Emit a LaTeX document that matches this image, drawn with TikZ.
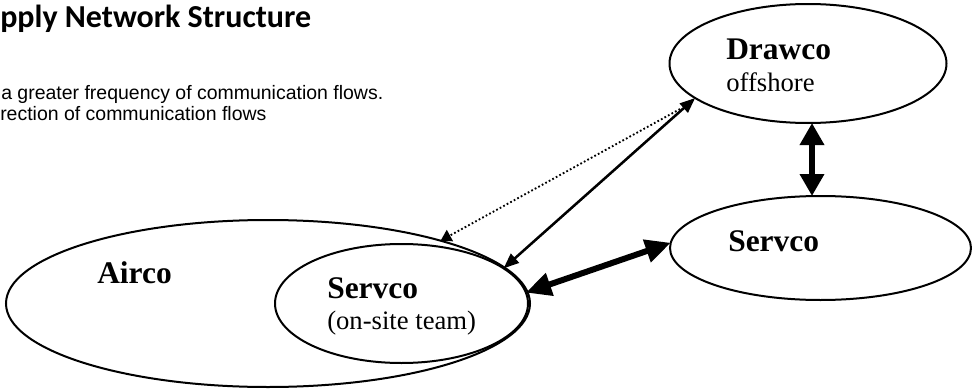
\documentclass[tikz,border=0pt]{standalone}
\usepackage{fontspec}
\setmainfont{Liberation Serif}
\newfontfamily\titlefont{Carlito}
\newfontfamily\notefont{Liberation Sans}
\usetikzlibrary{shapes.geometric,arrows.meta}
\begin{document}
\begin{tikzpicture}[x=0.75pt,y=-0.75pt,
  org/.style={draw, ellipse, line width=1.5pt, inner sep=0pt, outer sep=0pt},
  lbl/.style={anchor=base west, inner sep=0pt, font=\fontsize{23.6}{26}\selectfont\bfseries},
  sub/.style={anchor=base west, inner sep=0pt, font=\fontsize{20}{23}\selectfont},
  note/.style={anchor=base west, inner sep=0pt, font=\notefont\fontsize{14.6}{17}\selectfont},
  thinflow/.style={line width=1.9pt, {Triangle[length=11.5pt,width=9pt]}-{Triangle[length=11.5pt,width=9pt]}},
  dotflow/.style={line width=1.4pt, dash pattern=on 1.3pt off 1.7pt, -{Triangle[length=8pt,width=9.5pt]}},
  thickflow/.style={line width=4.5pt, {Triangle[length=19pt,width=17pt]}-{Triangle[length=19pt,width=17pt]}},
  vflow/.style={line width=5.2pt, {Triangle[length=16.5pt,width=17.5pt]}-{Triangle[length=16.5pt,width=17.5pt]}}
]
\useasboundingbox[fill=white] (0,0) rectangle (972,389);

% title and notes
\node[anchor=base west, inner sep=0pt, font=\titlefont\bfseries\fontsize{24}{28}\selectfont] (title) at (0,27) {pply Network Structure};
\node[note] (note1) at (1,99) {a greater frequency of communication flows.};
\node[note] (note2) at (0,120) {rection of communication flows};

% organisations
\node[org, minimum width=393pt, minimum height=125.25pt] (airco) at (268,303.5) {};
\node[org, minimum width=189.75pt, minimum height=89.25pt] (onsite) at (401.5,303.5) {};
\node[org, minimum width=207.75pt, minimum height=89.25pt] (drawco) at (808,63.5) {};
\node[org, minimum width=225.75pt, minimum height=78pt] (servco) at (820.5,248) {};

% labels
\node[lbl] (aircol) at (97,283) {Airco};
\node[lbl] (onsitel) at (327,298) {Servco};
\node[sub] (onsitet) at (327,329) {(on-site team)};
\node[lbl] (drawcol) at (726,59) {Drawco};
\node[sub] (drawcot) at (726,91) {offshore};
\node[lbl] (servcol) at (728,251) {Servco};

% flows
\coordinate (vx) at (812,0);
\draw[dotflow, shorten <=15pt] (drawco.198.8) -- (airco.20);
\draw[thinflow] (drawco.197.2) -- (onsite.19.6);
\draw[thickflow] (servco.178.9) -- (onsite.5.6);
\draw[vflow] (drawco.south -| vx) -- (servco.north -| vx);
\end{tikzpicture}
\end{document}
